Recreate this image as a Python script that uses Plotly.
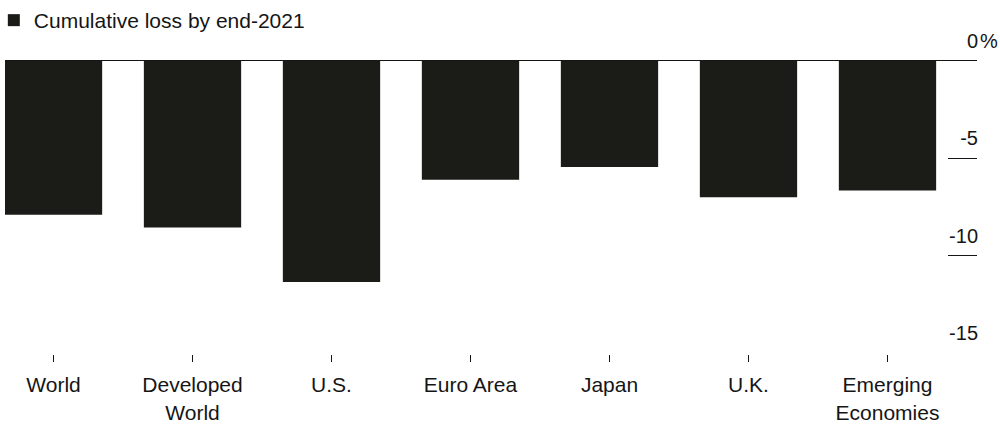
import plotly.graph_objects as go

categories = ["World", "Developed<br>World", "U.S.", "Euro Area", "Japan", "U.K.", "Emerging<br>Economies"]
values = [-7.9, -8.55, -11.35, -6.1, -5.45, -7.0, -6.65]
series_name = "Cumulative loss by end-2021"
y_tickvals = [0, -5, -10, -15]
y_ticktext = ["0", "-5", "-10", "-15"]

BAR = "#1b1b17"
TXT = "#151515"
FONT = "Liberation Sans, Arial, sans-serif"

fig = go.Figure()
fig.add_trace(go.Bar(
    x=list(range(len(categories))), y=values, name=series_name,
    marker=dict(color=BAR, line=dict(width=0)),
    showlegend=True,
))

fig.update_layout(
    width=1000, height=425,
    margin=dict(l=5, r=23, t=22, b=71, autoexpand=False),
    paper_bgcolor="white", plot_bgcolor="white",
    bargap=0.30,
    font=dict(family=FONT, color=TXT, size=21),
    showlegend=True,
    legend=dict(
        x=-0.0115, y=1.008, xref="paper", yref="container",
        xanchor="left", yanchor="top",
        font=dict(size=21, color=TXT, family=FONT),
        bgcolor="rgba(0,0,0,0)", borderwidth=0,
        itemclick=False,
    ),
    xaxis=dict(
        tickmode="array",
        tickvals=list(range(len(categories))),
        ticktext=categories,
        range=[-0.349, 6.644],
        showgrid=False, zeroline=False, showline=False,
        ticks="outside", ticklen=7, tickwidth=1.2, tickcolor=TXT,
        ticklabelstandoff=5,
        tickfont=dict(size=21, color=TXT, family=FONT),
        fixedrange=True,
    ),
    yaxis=dict(
        side="right",
        range=[-15.05, 2.0],
        tickmode="array", tickvals=y_tickvals, ticktext=y_ticktext,
        ticks="inside", ticklen=29, tickwidth=1.3, tickcolor=TXT,
        ticklabelposition="inside",
        ticklabelshift=-20,
        ticklabelstandoff=-29,
        showgrid=False, showline=False,
        zeroline=True, zerolinecolor=TXT, zerolinewidth=1.3,
        tickfont=dict(size=20, color=TXT, family=FONT),
        fixedrange=True,
    ),
    annotations=[dict(
        text="%", xref="paper", yref="y", x=1, y=0,
        xanchor="left", yanchor="middle", yshift=20, xshift=1,
        showarrow=False, font=dict(size=20, color=TXT, family=FONT),
    )],
)

fig.write_html(
    "out.html",
    config={"displayModeBar": False},
    post_script="document.body.style.margin='0';document.body.style.padding='0';",
)
